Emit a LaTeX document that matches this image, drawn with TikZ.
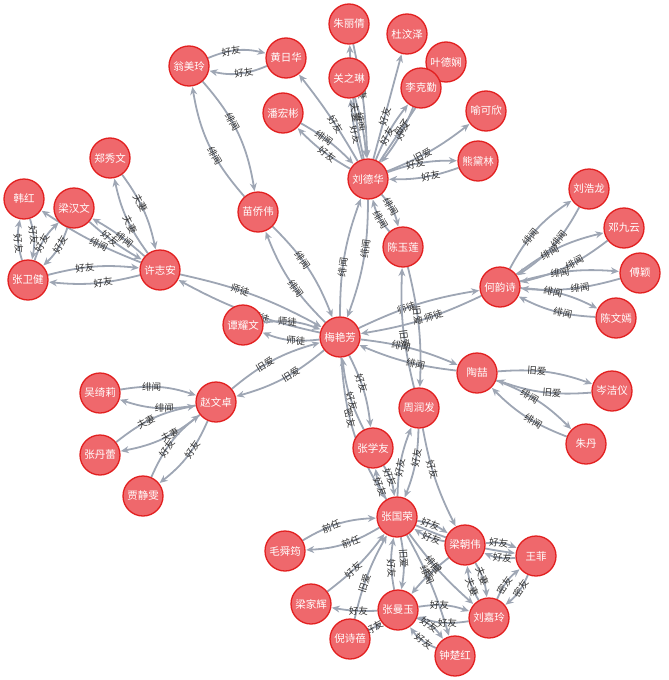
\documentclass[tikz,border=0pt]{standalone}
\usepackage{fontspec}
\newfontfamily\cjk{Noto Sans CJK SC}
\usetikzlibrary{arrows.meta}
\pgfdeclarelayer{edgelayer}
\pgfsetlayers{edgelayer,main}
\definecolor{nodefill}{RGB}{239,104,108}
\definecolor{nodeline}{RGB}{226,32,32}
\definecolor{edgecol}{RGB}{158,166,180}
\definecolor{labcol}{RGB}{50,50,50}
\tikzset{
  person/.style={circle,fill=nodefill,draw=nodeline,line width=1.3pt,minimum size=40pt,inner sep=0pt,text=white,font=\cjk\fontsize{10.5}{11}\selectfont},
  edge/.style={draw=edgecol,line width=1.8pt,-{Stealth[length=8pt,width=7pt]},shorten >=0.5pt},
  lab/.style={sloped,pos=0.4,font=\cjk\fontsize{9.5}{10}\selectfont,text=labcol,inner sep=0.5pt}
}
\newcommand\biedge[5][14]{%
  \draw[edge] (#2) to[bend left=#1] node[lab]{#4} (#3);
  \draw[edge] (#3) to[bend left=#1] node[lab]{#5} (#2);}
\newcommand\oneedge[4][0]{%
  \draw[edge] (#2) to[bend left=#1] node[lab]{#4} (#3);}
\begin{document}
\begin{tikzpicture}[x=1pt,y=-1pt]
\useasboundingbox (0,0) rectangle (669,680);
% nodes
\node[person] (wml) at (189,66) {翁美玲};
\node[person] (hrh) at (286,58) {黄日华};
\node[person] (zlq) at (349,24) {朱丽倩};
\node[person] (dwz) at (407,34) {杜汶泽};
\node[person] (gzl) at (349,78) {关之琳};
\node[person] (ydx) at (446,62) {叶德娴};
\node[person] (lkq) at (421,88) {李克勤};
\node[person] (phb) at (283,113) {潘宏彬};
\node[person] (ykx) at (486,111) {喻可欣};
\node[person] (xdl) at (478,161) {熊黛林};
\node[person] (ldh) at (368,179) {刘德华};
\node[person] (zxw) at (110,158) {郑秀文};
\node[person] (hh) at (24,199) {韩红};
\node[person] (lhw) at (74,208) {梁汉文};
\node[person] (mqw) at (258,212) {苗侨伟};
\node[person] (lhl) at (589,189) {刘浩龙};
\node[person] (djy) at (624,228) {邓九云};
\node[person] (zwj) at (28,280) {张卫健};
\node[person] (xza) at (160,270) {许志安};
\node[person] (cyl) at (403,247) {陈玉莲};
\node[person] (hys) at (500,287) {何韵诗};
\node[person] (fy) at (640,273) {傅颖};
\node[person] (cwy) at (616,318) {陈文嫣};
\node[person] (tyw) at (243,325) {谭耀文};
\node[person] (myf) at (340,337) {梅艳芳};
\node[person] (tz) at (477,373) {陶喆};
\node[person] (cjy) at (612,391) {岑洁仪};
\node[person] (wql) at (100,393) {吴绮莉};
\node[person] (zwz) at (216,402) {赵文卓};
\node[person] (zrf) at (419,408) {周润发};
\node[person] (zd) at (586,444) {朱丹};
\node[person] (zxy) at (373,448) {张学友};
\node[person] (zdl) at (100,455) {张丹蕾};
\node[person] (jjw) at (143,496) {贾静雯};
\node[person] (zgr) at (397,517) {张国荣};
\node[person] (lzw) at (465,545) {梁朝伟};
\node[person] (wf) at (536,556) {王菲};
\node[person] (msy) at (285,551) {毛舜筠};
\node[person] (ljh) at (311,604) {梁家辉};
\node[person] (zmy) at (398,610) {张曼玉};
\node[person] (ljl) at (489,618) {刘嘉玲};
\node[person] (nsb) at (350,639) {倪诗蓓};
\node[person] (zch) at (455,656) {钟楚红};
\begin{pgfonlayer}{edgelayer}
% 刘德华 cluster
\biedge[18]{wml}{hrh}{好友}{好友}
\biedge[16]{wml}{mqw}{绯闻}{绯闻}
\oneedge[-4]{ldh}{hrh}{好友}
\oneedge[8]{ldh}{phb}{好友}
\oneedge[8]{phb}{ldh}{绯闻}
\biedge[6]{ldh}{gzl}{好友}{绯闻}
\biedge[5]{ldh}{zlq}{夫妻}{夫妻}
\oneedge{ldh}{dwz}{好友}
\biedge[8]{ldh}{lkq}{好友}{好友}
\oneedge{ldh}{ydx}{母子}
\oneedge[-8]{ldh}{ykx}{旧爱}
\biedge[10]{ldh}{xdl}{好友}{好友}
\biedge[10]{ldh}{myf}{绯闻}{绯闻}
\biedge[14]{ldh}{cyl}{绯闻}{绯闻}
\biedge[12]{mqw}{myf}{绯闻}{绯闻}
% 许志安 cluster
\biedge[12]{xza}{zxw}{夫妻}{夫妻}
\oneedge[-6]{lhw}{xza}{好友}
\oneedge[-6]{xza}{lhw}{绯闻}
\oneedge[6]{xza}{hh}{绯闻}
\biedge[10]{zwj}{xza}{好友}{好友}
\biedge[14]{zwj}{hh}{好友}{好友}
\biedge[14]{zwj}{lhw}{好友}{好友}
\biedge[8]{xza}{myf}{师徒}{师徒}
\biedge[14]{tyw}{myf}{师徒}{师徒}
% 赵文卓 cluster
\biedge[12]{zwz}{myf}{旧爱}{旧爱}
\biedge[14]{zwz}{wql}{绯闻}{绯闻}
\biedge[14]{zwz}{zdl}{夫妻}{夫妻}
\biedge[14]{zwz}{jjw}{好友}{好友}
% 何韵诗 cluster
\biedge[8]{hys}{myf}{师徒}{师徒}
\biedge[14]{hys}{lhl}{绯闻}{绯闻}
\biedge[12]{hys}{djy}{绯闻}{绯闻}
\biedge[10]{hys}{fy}{绯闻}{绯闻}
\biedge[12]{hys}{cwy}{绯闻}{绯闻}
% 陶喆 and 周润发
\biedge[8]{cyl}{zrf}{旧爱}{旧爱}
\biedge[8]{myf}{tz}{绯闻}{绯闻}
\biedge[12]{tz}{cjy}{旧爱}{旧爱}
\biedge[12]{tz}{zd}{绯闻}{绯闻}
\biedge[10]{myf}{zxy}{好友}{好友}
\oneedge[-14]{myf}{zgr}{密友}
\biedge[10]{zrf}{zgr}{好友}{好友}
\biedge[12]{zxy}{zgr}{好友}{好友}
\oneedge[-8]{zrf}{lzw}{好友}
% 张国荣 cluster
\biedge[14]{zgr}{msy}{前任}{前任}
\oneedge[-8]{ljh}{zgr}{好友}
\oneedge[8]{nsb}{zgr}{旧爱}
\biedge[10]{zgr}{zmy}{旧爱}{好友}
\biedge[12]{zgr}{lzw}{好友}{好友}
\oneedge[-8]{zgr}{wf}{好友}
\oneedge[-6]{zgr}{ljl}{绯闻}
\oneedge[6]{zgr}{zch}{绯闻}
\biedge[14]{lzw}{wf}{好友}{好友}
\biedge[12]{lzw}{ljl}{夫妻}{夫妻}
\biedge[14]{wf}{ljl}{密友}{密友}
\biedge[14]{zmy}{ljl}{好友}{好友}
\biedge[16]{zmy}{zch}{好友}{好友}
\oneedge[6]{zmy}{ljh}{好友}
\oneedge[-6]{nsb}{zmy}{好友}
\oneedge[-6]{lzw}{zmy}{绯闻}
\end{pgfonlayer}
\end{tikzpicture}
\end{document}
